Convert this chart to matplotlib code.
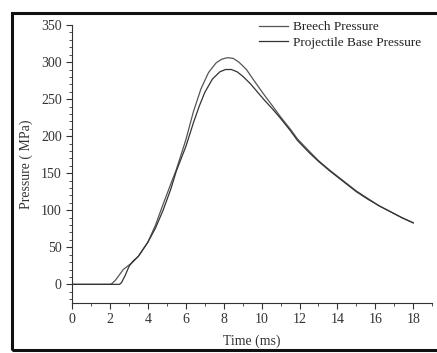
import matplotlib
matplotlib.use('Agg')
from matplotlib import pyplot as plt
from matplotlib.patches import Rectangle
from matplotlib.ticker import MultipleLocator

plt.rcParams['font.family'] = ['Liberation Serif', 'DejaVu Serif']

# values
breech_t = [0, 2.0, 2.1, 2.3, 2.5, 2.7, 2.95, 3.2, 3.5, 4.0, 4.4, 4.8, 5.2, 5.5,
            6.0, 6.4, 6.8, 7.2, 7.6, 7.9, 8.2, 8.5, 8.8, 9.2, 9.6, 10.1, 10.6,
            11.0, 11.5, 11.9, 12.5, 13.0, 13.6, 14.2, 15.0, 15.6, 16.2, 16.8,
            17.4, 18.0]
breech_p = [0, 0, 1, 6, 13, 20, 25, 30, 38, 57, 80, 108, 135, 155,
            195, 233, 264, 286, 299, 304, 306, 305, 300, 290, 275, 257, 240,
            226, 210, 196, 180, 167, 154, 142, 126, 116, 106, 98,
            90, 83]

base_t = [0, 2.5, 2.6, 2.8, 3.0, 3.2, 3.5, 4.0, 4.4, 4.8, 5.2, 5.5, 6.0, 6.4,
          6.7, 7.0, 7.4, 7.8, 8.1, 8.4, 8.7, 9.0, 9.4, 9.8, 10.1, 10.6, 11.0,
          11.5, 11.9, 12.5, 13.0, 13.6, 14.2, 15.0, 15.6, 16.2, 16.8, 17.4,
          18.0]
base_p = [0, 0, 2, 12, 24, 31, 38, 57, 76, 100, 128, 153, 186, 218,
          240, 259, 277, 287, 290, 290, 287, 281, 271, 259, 250, 236, 224,
          208, 194, 178, 166, 153, 141, 125, 115, 106, 98, 90,
          83]

fig = plt.figure(figsize=(4.37, 3.53), dpi=100)
ax = fig.add_axes([0.165, 0.142, 0.824, 0.787])

ax.plot(breech_t, breech_p, color='#555555', lw=0.9, label='Breech Pressure')
ax.plot(base_t, base_p, color='#333333', lw=0.9, label='Projectile Base Pressure')

ax.set_xlim(0, 19)
ax.set_ylim(-25, 350)
ax.xaxis.set_major_locator(MultipleLocator(2))
ax.xaxis.set_minor_locator(MultipleLocator(1))
ax.yaxis.set_major_locator(MultipleLocator(50))
ax.yaxis.set_minor_locator(MultipleLocator(10))
ax.tick_params(which='major', direction='out', length=4, width=0.8,
               labelsize=10, colors='#333333')
ax.tick_params(which='minor', direction='out', length=2, width=0.6, colors='#333333')

for s in ['top', 'right']:
    ax.spines[s].set_visible(False)
for s in ['left', 'bottom']:
    ax.spines[s].set_color('#333333')
    ax.spines[s].set_linewidth(0.8)

ax.set_xlabel('Time (ms)', fontsize=10, color='#333333', labelpad=6)
ax.set_ylabel('Pressure ( MPa)', fontsize=10, color='#333333', labelpad=6)

ax.legend(frameon=False, loc='upper left', bbox_to_anchor=(0.593, 0.94),
          bbox_transform=fig.transFigure, borderpad=0, borderaxespad=0,
          handlelength=2.2, handletextpad=0.35, labelspacing=0.25,
          fontsize=9.5, labelcolor='#222222')

# scanned border round the figure
fig.patches.append(Rectangle((0.028, 0.008), 1.0, 0.955, transform=fig.transFigure,
                             fill=False, edgecolor='#111111', lw=2.2))

fig.savefig('out.png', dpi=100)
